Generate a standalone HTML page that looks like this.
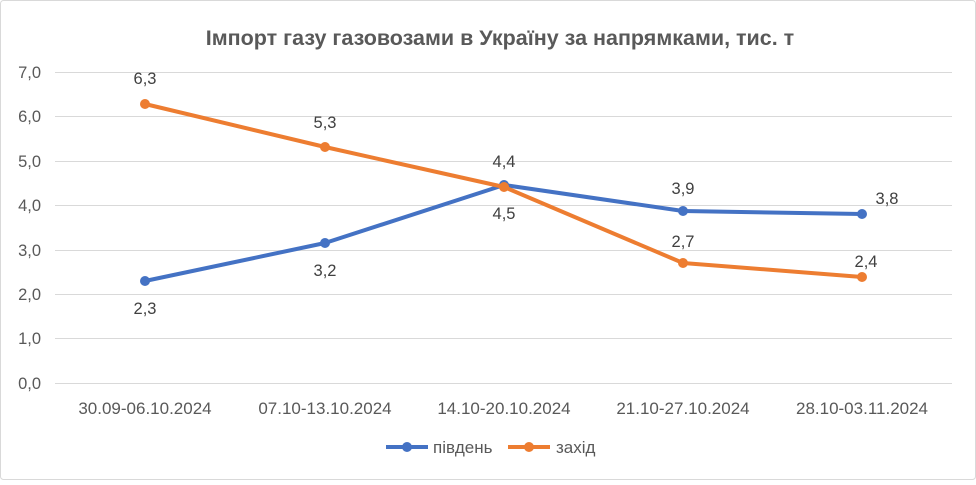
<!DOCTYPE html>
<html><head><meta charset="utf-8"><style>
html,body{margin:0;padding:0;background:#fff;}
</style></head><body>
<svg width="976" height="480" xmlns="http://www.w3.org/2000/svg" font-family="Liberation Sans, sans-serif">
<rect x="0.5" y="0.5" width="975" height="479" fill="#fff" stroke="#d9d9d9" rx="3"/>
<text x="500" y="45" text-anchor="middle" font-size="21.5" font-weight="bold" fill="#595959">Імпорт газу газовозами в Україну за напрямками, тис. т</text>
<g stroke="#d9d9d9" stroke-width="1">
<line x1="55" y1="72.5" x2="952" y2="72.5"/>
<line x1="55" y1="116.5" x2="952" y2="116.5"/>
<line x1="55" y1="161.5" x2="952" y2="161.5"/>
<line x1="55" y1="205.5" x2="952" y2="205.5"/>
<line x1="55" y1="250.5" x2="952" y2="250.5"/>
<line x1="55" y1="294.5" x2="952" y2="294.5"/>
<line x1="55" y1="338.5" x2="952" y2="338.5"/>
<line x1="55" y1="383.5" x2="952" y2="383.5"/>
</g>
<g font-size="16.5" fill="#595959" text-anchor="end">
<text x="41" y="78">7,0</text><text x="41" y="122">6,0</text><text x="41" y="167">5,0</text>
<text x="41" y="211">4,0</text><text x="41" y="256">3,0</text><text x="41" y="300">2,0</text>
<text x="41" y="344">1,0</text><text x="41" y="389">0,0</text>
</g>
<g font-size="17" fill="#595959" text-anchor="middle">
<text x="145" y="414">30.09-06.10.2024</text><text x="325" y="414">07.10-13.10.2024</text>
<text x="504" y="414">14.10-20.10.2024</text><text x="683" y="414">21.10-27.10.2024</text>
<text x="862" y="414">28.10-03.11.2024</text>
</g>
<polyline fill="none" stroke="#4472c4" stroke-width="4" stroke-linejoin="round" points="145,281 325,243 504,185 683,211 862,214"/>
<g fill="#4472c4"><circle cx="145" cy="281" r="5"/><circle cx="325" cy="243" r="5"/><circle cx="504" cy="185" r="5"/><circle cx="683" cy="211" r="5"/><circle cx="862" cy="214" r="5"/></g>
<polyline fill="none" stroke="#ed7d31" stroke-width="4" stroke-linejoin="round" points="145,104 325,147 504,187 683,263 862,277"/>
<g fill="#ed7d31"><circle cx="145" cy="104" r="5"/><circle cx="325" cy="147" r="5"/><circle cx="504" cy="187" r="5"/><circle cx="683" cy="263" r="5"/><circle cx="862" cy="277" r="5"/></g>
<g font-size="16.5" fill="#404040" text-anchor="middle">
<text x="145" y="314">2,3</text><text x="325" y="276">3,2</text><text x="504" y="219">4,5</text>
<text x="683" y="194">3,9</text><text x="887" y="204">3,8</text>
<text x="145" y="84">6,3</text><text x="325" y="128">5,3</text><text x="504" y="167">4,4</text>
<text x="683" y="247">2,7</text><text x="866" y="267">2,4</text>
</g>
<line x1="386" y1="447" x2="428" y2="447" stroke="#4472c4" stroke-width="4"/>
<circle cx="407" cy="447" r="5" fill="#4472c4"/>
<text x="433" y="453" font-size="17" fill="#595959">південь</text>
<line x1="508" y1="447" x2="550" y2="447" stroke="#ed7d31" stroke-width="4"/>
<circle cx="529" cy="447" r="5" fill="#ed7d31"/>
<text x="556" y="453" font-size="17" fill="#595959">захід</text>
</svg>
</body></html>
